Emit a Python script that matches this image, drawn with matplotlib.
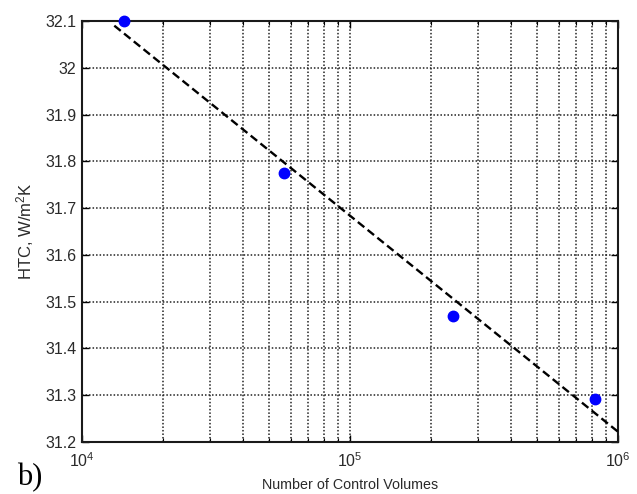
import matplotlib
matplotlib.use("Agg")
import matplotlib.pyplot as plt
from matplotlib.ticker import LogLocator, NullFormatter, FixedLocator

plt.rcParams['font.family'] = ['Liberation Sans', 'DejaVu Sans']
plt.rcParams['mathtext.fontset'] = 'custom'
plt.rcParams['mathtext.rm'] = 'Liberation Sans'
plt.rcParams['mathtext.it'] = 'Liberation Sans:italic'

# Mesh sizes and heat transfer coefficient results
control_volumes = [14300, 56500, 242000, 818000]
htc = [32.10, 31.776, 31.47, 31.291]

# Trend line end points (log-linear fit)
trend_x = [13200, 1.0e6]
trend_y = [32.09, 31.222]

y_ticks = [31.2, 31.3, 31.4, 31.5, 31.6, 31.7, 31.8, 31.9, 32.0, 32.1]
y_labels = ['31.2', '31.3', '31.4', '31.5', '31.6', '31.7', '31.8', '31.9', '32', '32.1']

fig = plt.figure(figsize=(6.37, 4.94), dpi=100)
ax = fig.add_axes([0.1287, 0.1053, 0.8414, 0.8522])

ax.plot(trend_x, trend_y, color='black', linestyle=(0, (3.5, 1.8)), linewidth=1.7, zorder=3)
ax.plot(control_volumes, htc, 'o', color='#0000ff', markersize=7.5, zorder=4,
        clip_on=False)

ax.set_xscale('log')
ax.set_xlim(1e4, 1e6)
ax.set_ylim(31.2, 32.1)
ax.xaxis.set_major_locator(FixedLocator([1e4, 1e5, 1e6]))
ax.set_xticklabels(['$10^{4}$', '$10^{5}$', '$10^{6}$'])
ax.xaxis.set_minor_locator(LogLocator(base=10, subs=range(2, 10)))
ax.xaxis.set_minor_formatter(NullFormatter())
ax.set_yticks(y_ticks)
ax.set_yticklabels(y_labels)

grid_style = dict(color='#222222', linestyle=(0, (1, 1.3)), linewidth=1.1)
ax.grid(True, which='major', axis='both', **grid_style)
ax.grid(True, which='minor', axis='x', **grid_style)

ax.tick_params(which='both', direction='in', top=True, right=True, labelsize=11.5,
               colors='black', labelcolor='#2a2a2a')
ax.tick_params(which='major', length=5, width=1)
ax.tick_params(which='minor', length=3, width=0.8)
ax.tick_params(axis='x', which='major', pad=7)
ax.tick_params(axis='y', which='major', pad=4)
for s in ax.spines.values():
    s.set_linewidth(1.5)
    s.set_color('#1a1a1a')

ax.set_xlabel('Number of Control Volumes', fontsize=10.3, color='#2a2a2a')
ax.xaxis.set_label_coords(0.5, -0.102)
ax.xaxis.label.set_va('center')
ax.set_ylabel('HTC, W/m$^2$K', fontsize=12, color='#2a2a2a')
ax.yaxis.set_label_coords(-0.106, 0.5)
ax.yaxis.label.set_va('center')

fig.text(0.027, 0.018, 'b)', fontsize=22, family='Liberation Serif', color='black',
         va='baseline', ha='left')

fig.savefig('out.png', dpi=100)
